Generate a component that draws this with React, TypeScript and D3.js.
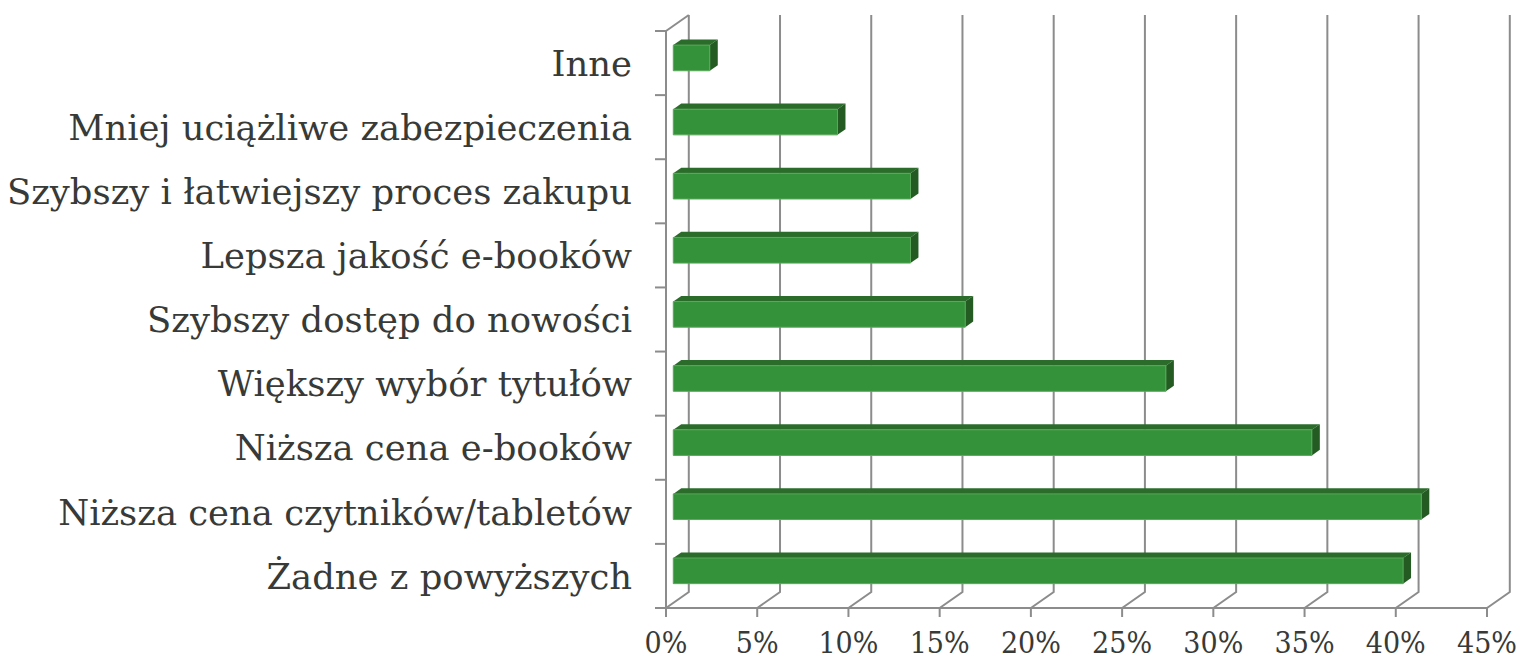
import React from 'react';
import * as d3 from 'd3';

// categories top to bottom, as in the picture
const categories = [
  'Inne',
  'Mniej uciążliwe zabezpieczenia',
  'Szybszy i łatwiejszy proces zakupu',
  'Lepsza jakość e-booków',
  'Szybszy dostęp do nowości',
  'Większy wybór tytułów',
  'Niższa cena e-booków',
  'Niższa cena czytników/tabletów',
  'Żadne z powyższych',
];
const shares = [0.02, 0.09, 0.13, 0.13, 0.16, 0.27, 0.35, 0.41, 0.40];
const ticks = [0, 0.05, 0.1, 0.15, 0.2, 0.25, 0.3, 0.35, 0.4, 0.45];

const W = 1522;
const H = 661;
// 3D depth offset of the back wall
const DX = 22.8;
const DY = 16;
const FRONT = 0.32; // depth of bar front face
const BACK = 0.67; // depth of bar back face

const App = () => {
  const x = d3.scaleLinear().domain([0, 0.45]).range([666, 1487]);
  const y = d3.scaleBand().domain(categories).range([31, 608]);
  const top = 31;
  const bottom = 608;
  const thick = y.bandwidth() * 0.4;
  const grid = '#8c8c8c';
  const labelFont = '"DejaVu Serif", serif';
  const tickFont = '"DejaVu Serif Condensed", "DejaVu Serif", serif';

  const pt = (v, yy, d) => [x(v) + d * DX, yy - d * DY];
  const poly = (pts) => pts.map((p) => p.join(',')).join(' ');

  return (
    <svg width={W} height={H} style={{ position: 'absolute', left: 0, top: 0, display: 'block' }}>
      {/* left wall diagonal + front axis */}
      <line x1={x(0)} y1={top} x2={x(0) + DX} y2={top - DY} stroke={grid} strokeWidth={2} />
      <line x1={x(0)} y1={top} x2={x(0)} y2={bottom} stroke={grid} strokeWidth={2} />
      {/* back wall gridlines */}
      {ticks.map((t) => (
        <polyline
          key={'g' + t}
          points={poly([
            [x(t) + DX, top - DY],
            [x(t) + DX, bottom - DY],
            [x(t), bottom],
          ])}
          fill="none"
          stroke={grid}
          strokeWidth={2}
        />
      ))}
      <line x1={x(0)} y1={bottom} x2={x(0.45)} y2={bottom} stroke={grid} strokeWidth={2} />
      {/* ticks */}
      {ticks.map((t) => (
        <line key={'t' + t} x1={x(t)} y1={bottom} x2={x(t)} y2={bottom + 9} stroke={grid} strokeWidth={2} />
      ))}
      {[...categories.map((c) => y(c)), bottom].map((yy, i) => (
        <line key={'l' + i} x1={655} y1={yy} x2={x(0)} y2={yy} stroke={grid} strokeWidth={2} />
      ))}
      {/* bars */}
      {categories.map((c, i) => {
        const cy = y(c) + y.bandwidth() / 2;
        const y0 = cy - thick / 2;
        const y1 = cy + thick / 2;
        const v = shares[i];
        const f0 = pt(0, y0, FRONT);
        const f1 = pt(v, y0, FRONT);
        const f2 = pt(v, y1, FRONT);
        const f3 = pt(0, y1, FRONT);
        const b0 = pt(0, y0, BACK);
        const b1 = pt(v, y0, BACK);
        const b2 = pt(v, y1, BACK);
        return (
          <g key={c}>
            <polygon points={poly([f0, b0, b1, f1])} fill="#2b6c2b" />
            <polygon points={poly([f1, b1, b2, f2])} fill="#235b23" />
            <polygon points={poly([f0, f1, f2, f3])} fill="#34923a" stroke="#5aa85a" strokeWidth={1} />
          </g>
        );
      })}
      {/* category labels */}
      {categories.map((c) => (
        <text
          key={'c' + c}
          x={632}
          y={y(c) + y.bandwidth() / 2}
          dy="0.36em"
          textAnchor="end"
          fontFamily={labelFont}
          fontSize={35.4}
          fill="#373a37"
        >
          {c}
        </text>
      ))}
      {/* value labels */}
      {ticks.map((t) => (
        <text
          key={'x' + t}
          x={x(t)}
          y={653}
          textAnchor="middle"
          fontFamily={tickFont}
          fontSize={30}
          fill="#373a37"
        >
          {d3.format('.0%')(t)}
        </text>
      ))}
    </svg>
  );
};

export default App;
